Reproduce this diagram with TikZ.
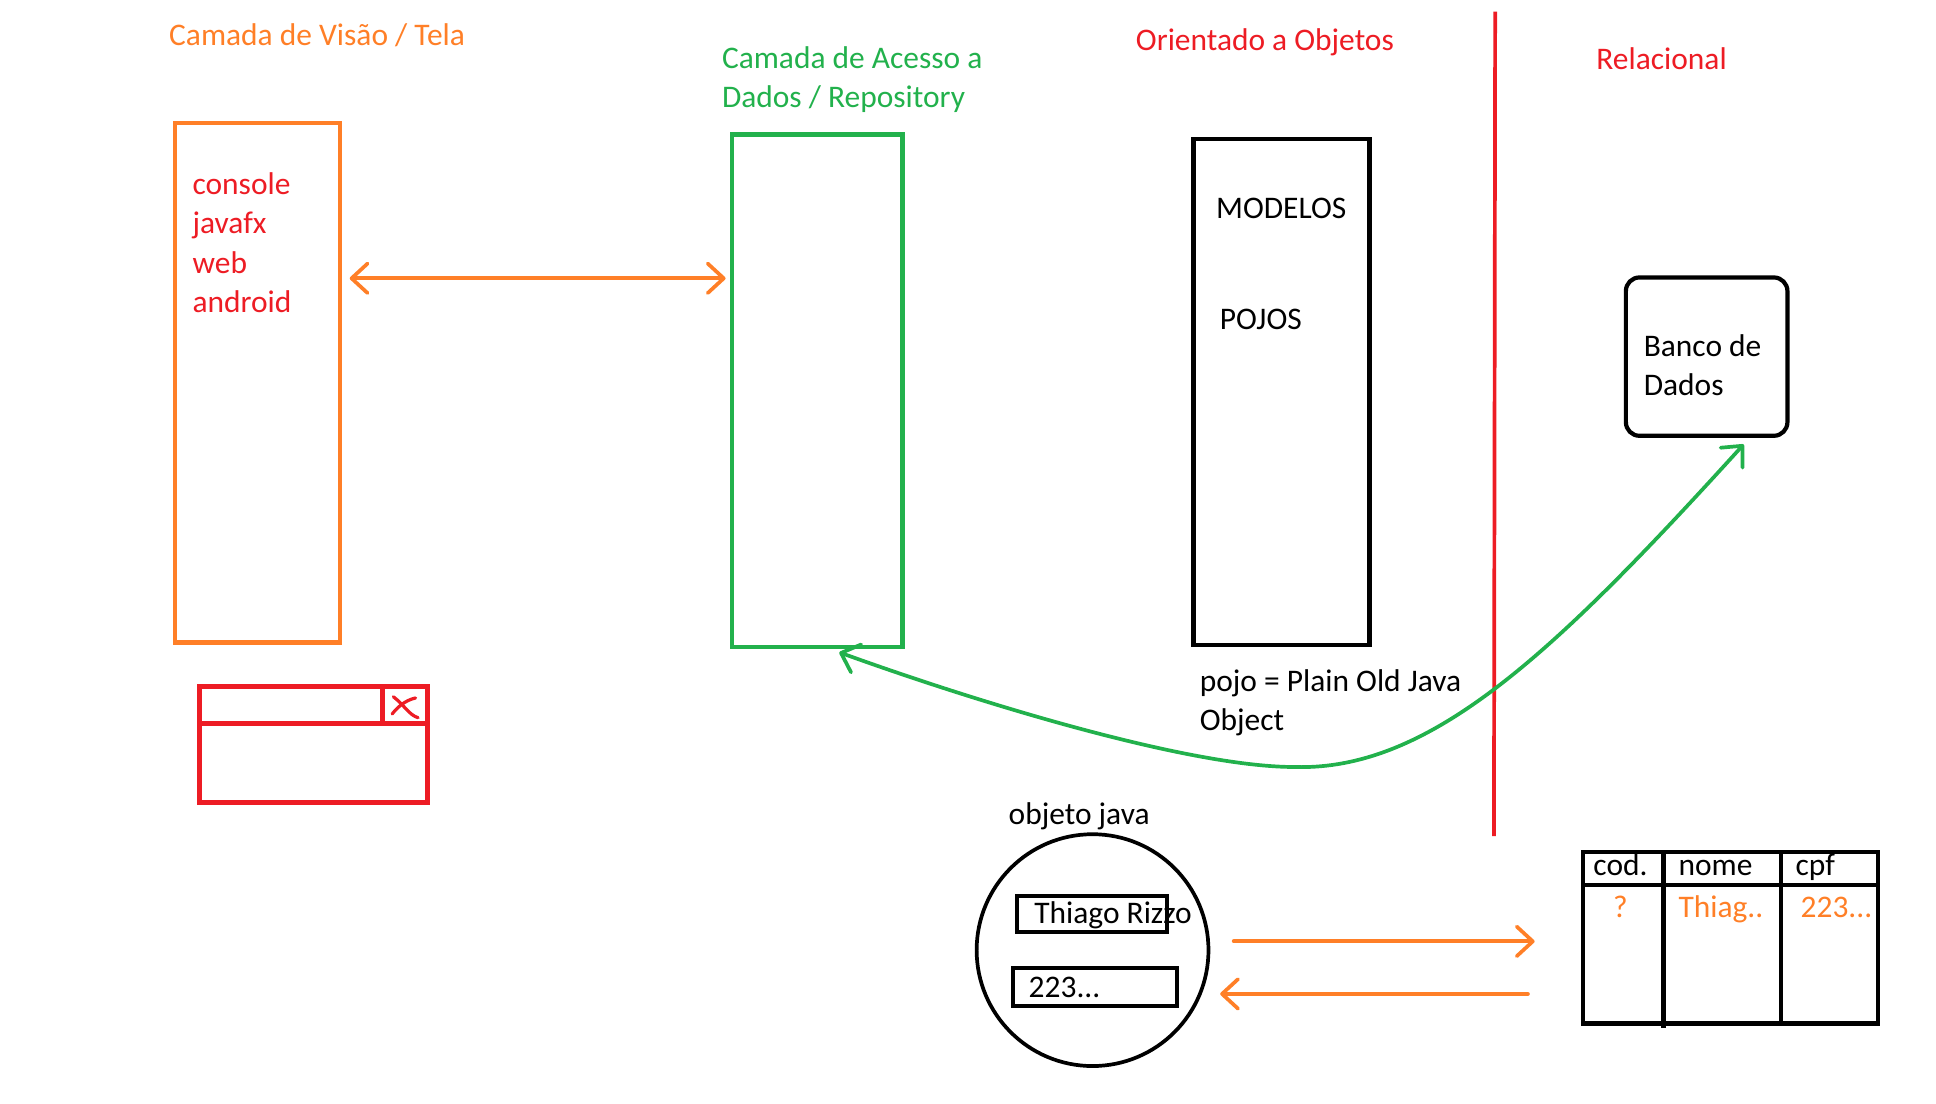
\documentclass[tikz,border=0pt]{standalone}
\usepackage{fontspec}
\setmainfont{Carlito}
\usetikzlibrary{arrows.meta}
\definecolor{laranja}{HTML}{FF7F27}
\definecolor{verde}{HTML}{22B14C}
\definecolor{vermelho}{HTML}{ED1C24}
\tikzset{
	texto/.style={anchor=base west, inner sep=0pt, align=left, font=\fontsize{25.5}{31.7}\selectfont},
	caixa/.style={draw, line width=3.4pt, inner sep=0pt, outer sep=0pt},
	farpa/.tip={Straight Barb[length=13pt,width=24pt,line width=3pt,round]},
	seta/.style={line width=3.2pt, line cap=round, farpa-farpa}
}
\begin{document}
\begin{tikzpicture}[x=1pt,y=-1pt]
			\useasboundingbox (0,0) rectangle (1570,894.6);
			% Camadas (texto de varias linhas: base = ultima linha)
			\node[texto, laranja] (tituloTela) at (137,36.5) {Camada de Visão / Tela};
			\node[caixa, draw=laranja, minimum width=133.6pt, minimum height=421pt] (tela) at (208.8,310.5) {};
			\node[texto, vermelho] (listaTela) at (156,253.1) {console\\javafx\\web\\android};
			\node[texto, verde] (tituloAcesso) at (585.3,87) {Camada de Acesso a\\Dados / Repository};
			\node[caixa, draw=verde, minimum width=138.4pt, minimum height=416pt] (acesso) at (662.6,317) {};
			\node[texto, vermelho] (tituloOO) at (921,41) {Orientado a Objetos};
			\node[caixa, minimum width=142.7pt, minimum height=410pt] (modelos) at (1039.2,318) {};
			\node[texto] (txtModelos) at (986,177) {MODELOS};
			\node[texto] (txtPojos) at (989,267.6) {POJOS};
			\node[texto] (pojo) at (972.8,592.6) {pojo = Plain Old Java\\Object};
			\node[texto, vermelho] (tituloRel) at (1294.4,56.2) {Relacional};
			\node[caixa, rounded corners=11pt, minimum width=131pt, minimum height=128.4pt] (db) at (1384,289.2) {};
			\node[texto] (txtDb) at (1332.8,321) {Banco de\\Dados};
			\draw[vermelho, line width=3pt] (1212.5,9.5) -- (1211.5,678); % divisao OO / relacional
			% Janela
			\draw[vermelho, line width=4pt] (162,557) rectangle (347,651);
			\draw[vermelho, line width=4pt] (162,587) -- (347,587);
			\draw[vermelho, line width=4pt] (310.4,557) -- (310.4,587);
			\draw[vermelho, line width=2.6pt, line cap=round] (319,565) .. controls (328,572) and (332,580) .. (339,582);
			\draw[vermelho, line width=2.6pt, line cap=round] (337,566) .. controls (328,568) and (322,574) .. (318,579);
			% Objeto java
			\node[texto] (txtObjeto) at (817.8,669) {objeto java};
			\node[draw, circle, line width=3pt, minimum size=188pt, inner sep=0pt] (objeto) at (886,770.5) {};
			\draw[line width=3.2pt] (824.5,726.4) rectangle (946.6,756);
			\node[texto] (nome) at (838.6,748.8) {Thiago Rizzo};
			\draw[line width=3.2pt] (821.8,785.3) rectangle (954.3,816);
			\node[texto] (cpf) at (834,808.9) {223...};
			% Tabela
			\draw[line width=3.4pt] (1284,691) rectangle (1523,830);
			\draw[line width=3.4pt] (1284,718) -- (1523,718);
			\draw[line width=3.4pt] (1349,691) -- (1349,834);
			\draw[line width=3.4pt] (1444,691) -- (1444,830);
			\coordinate (tabela) at (1284,760);
			\node[texto] (colCod) at (1292,709.6) {cod.};
			\node[texto] (colNome) at (1361,709.6) {nome};
			\node[texto] (colCpf) at (1456,709.6) {cpf};
			\node[texto, laranja] (valCod) at (1308,744) {?};
			\node[texto, laranja] (valNome) at (1361,744) {Thiag..};
			\node[texto, laranja] (valCpf) at (1460,744) {223...};
			% Setas
			\draw[seta, laranja, shorten <=8pt, shorten >=5pt] (tela.east |- 0,225.7) -- (acesso.west |- 0,225.7);
			\draw[seta, laranja, farpa-, -farpa, shorten <=19pt, shorten >=39.5pt] (objeto.east |- 0,763.4) -- (tabela |- 0,763.4);
			\draw[seta, laranja, -farpa, shorten <=45pt, shorten >=8pt] (tabela |- 0,806) -- (objeto.east |- 0,806);
			\draw[seta, verde, line width=3pt] ([xshift=30pt,yshift=-7pt]db.south) .. controls (1260,530) and (1160,625) .. (1050,622) .. controls (960,622) and (780,565) .. ([xshift=18pt,yshift=-4pt]acesso.south);
		\end{tikzpicture}
\end{document}
